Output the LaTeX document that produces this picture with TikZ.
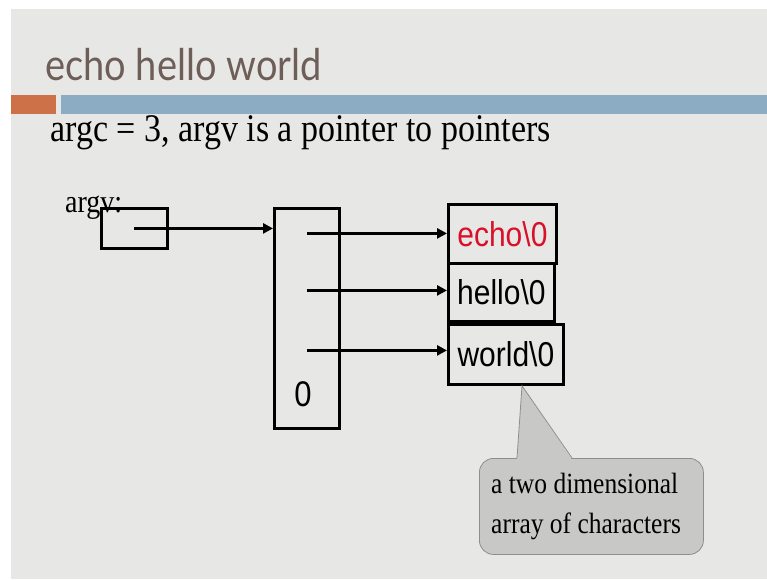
\documentclass[tikz,border=0pt]{standalone}
\usepackage{fontspec}
\usepackage{xcolor}
\usepackage{graphicx}
\usepackage{tikz}
\usetikzlibrary{arrows.meta}
\setmainfont{Liberation Serif}
\newfontfamily\arialfont{Liberation Sans}
\newfontfamily\titlefont{Lato}
% slide text is drawn a little taller than it is wide
\newcommand{\tallr}[1]{\scalebox{1}[1.15]{#1}}

\definecolor{slidebg}{HTML}{E7E8E6}
\definecolor{barorange}{HTML}{CD7149}
\definecolor{barblue}{HTML}{8CACC4}
\definecolor{titlebrown}{HTML}{6E5E58}
\definecolor{echored}{HTML}{D9102A}
\definecolor{notefill}{HTML}{C8C9C7}
\definecolor{noteline}{HTML}{8E8E8E}

\begin{document}
\begin{tikzpicture}[x=1pt, y=-1pt,
    memline/.style={draw, line width=2.8pt},
    strbox/.style={memline, anchor=north west, inner sep=0pt,
      font=\arialfont\fontsize{30}{30}\selectfont},
    ptr/.style={line width=3pt, -{Triangle[length=10pt, width=10pt]}}]
    \useasboundingbox (0,0) rectangle (767,579);
    \fill [white] (0,0) rectangle (767,579);
    \fill [slidebg] (11,9) rectangle (767,579);

    % title and bars
    \node [anchor=base west, text=titlebrown, inner sep=0pt,
    font=\titlefont\fontsize{38}{38}\selectfont] (title) at (45,80) {\tallr{echo hello world}};
    \fill [barorange] (11,95) rectangle (56,114);
    \fill [barblue] (61,95) rectangle (767,114);

    \node [anchor=base west, inner sep=0pt,
    font=\fontsize{34}{34}\selectfont] (headline) at (50,141)
    {\tallr{argc = 3, argv is a pointer to pointers}};

    % argv and the pointer array
    \node [anchor=base west, inner sep=0pt,
    font=\fontsize{28}{28}\selectfont] (argvlabel) at (65,212) {\tallr{argv:}};
    \node [memline, anchor=north west, minimum width=66pt, minimum height=40pt]
    (argvbox) at (100,207) {};
    \node [memline, anchor=north west, minimum width=65pt, minimum height=220pt]
    (vecbox) at (273,207) {};
    \node [font=\arialfont\fontsize{31}{31}\selectfont, inner sep=0pt]
    (nullptr) at (303,394) {\tallr{0}};

    % the strings
    \node [strbox, minimum width=108pt, minimum height=59pt, text=echored]
    (str1) at (447,203) {\tallr{echo\textbackslash 0}};
    \node [strbox, minimum width=106pt, minimum height=58pt]
    (str2) at (447,262) {\tallr{hello\textbackslash 0}};
    \node [strbox, minimum width=115pt, minimum height=60pt]
    (str3) at (447,323) {\tallr{world\textbackslash 0}};

    \draw [ptr] (argvbox.center) -- (argvbox.center -| vecbox.west);
    \draw [ptr] ([yshift=0.5pt]vecbox.center |- str1.west) -- ([yshift=0.5pt]str1.west);
    \draw [ptr] ([yshift=2pt]vecbox.center |- str2.west) -- ([yshift=2pt]str2.west);
    \draw [ptr] ([yshift=4pt]vecbox.center |- str3.west) -- ([yshift=4pt]str3.west);

    % callout
    \node [draw=noteline, fill=notefill, rounded corners=14pt, line width=0.8pt,
    anchor=north west, minimum width=224pt, minimum height=96pt] (note) at (479,458) {};
    \node [anchor=west, align=left, inner sep=0pt,
    font=\fontsize{25.5}{40}\selectfont] (notetext) at ([xshift=12pt]note.west)
    {\tallr{a two dimensional}\\\tallr{array of characters}};
    \coordinate (tip) at ([xshift=75pt]str3.south west);
    \fill [notefill] (517,459.5) -- (tip) -- (572,459.5) -- cycle;
    \draw [noteline, line width=0.8pt] (517,458) -- (tip) -- (572,458);
\end{tikzpicture}
\end{document}
